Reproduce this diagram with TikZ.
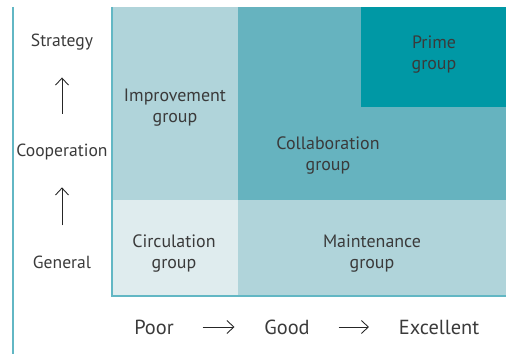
\documentclass[tikz,border=0pt]{standalone}
\usepackage{fontspec}
\setmainfont{PT Sans}
\usepackage{tikz}
\usetikzlibrary{arrows.meta, positioning, calc}

\definecolor{paleteal}{HTML}{DFECEE}
\definecolor{lightteal}{HTML}{B0D4DA}
\definecolor{midteal}{HTML}{66B3BF}
\definecolor{darkteal}{HTML}{0098A5}
\definecolor{lineteal}{HTML}{62B7C4}
\definecolor{inkgray}{HTML}{3A3A3A}

\begin{document}
\begin{tikzpicture}[
  x=0.02cm, y=-0.02cm,
  text=inkgray,
  grouplabel/.style={align=center, font=\fontsize{10.2}{12}\selectfont, inner sep=2pt},
  levellabel/.style={font=\fontsize{10}{12}\selectfont, inner sep=2pt},
  ratelabel/.style={font=\fontsize{11.6}{14}\selectfont, inner sep=2pt},
  levelarrow/.style={line width=0.5pt, -{Straight Barb[length=1.4mm, width=2.6mm]}, black!85,
                     shorten <=0.54cm, shorten >=0.46cm},
  ratearrow/.style={line width=0.5pt, -{Straight Barb[length=1.4mm, width=2.6mm]}, black!85,
                    shorten <=0.5cm, shorten >=0.52cm},
]
\useasboundingbox (0,0) rectangle (510,354);

% Group areas
\fill[lightteal] (112,7) rectangle (238,200);
\fill[paleteal] (112,200) rectangle (238,296);
\fill[midteal] (238,7) rectangle (506,200);
\fill[darkteal] (361,7) rectangle (506,107);
\fill[lightteal] (238,200) rectangle (506,296);

% Axes
\draw[lineteal, line width=0.6pt] (13,7) -- (13,354);
\draw[lineteal, line width=0.6pt] (112,7) -- (112,296) -- (506,296);

% Group names
\node[grouplabel] (improve) at (175,107.5) {Improvement\\group};
\node[grouplabel] (prime) at (434,54.5) {Prime\\group};
\node[grouplabel] (collab) at (328,155.5) {Collaboration\\group};
\node[grouplabel] (circ) at (174,253.5) {Circulation\\group};
\node[grouplabel] (maint) at (372,253.5) {Maintenance\\group};

% Level of relation (left)
\node[levellabel] (strat) at (62,42.5) {Strategy};
\node[levellabel] (coop) at (62,152.5) {Cooperation};
\node[levellabel] (gen) at (62,262.5) {General};
\draw[levelarrow] (coop) -- (strat);
\draw[levelarrow] (gen) -- (coop);

% Rating (bottom)
\node[ratelabel] (poor) at (154,327) {Poor};
\node[ratelabel] (good) at (287,327) {Good};
\node[ratelabel] (exc) at (439,327) {Excellent};
\draw[ratearrow] (poor) -- (good);
\draw[ratearrow] (good) -- (exc);
\end{tikzpicture}
\end{document}
